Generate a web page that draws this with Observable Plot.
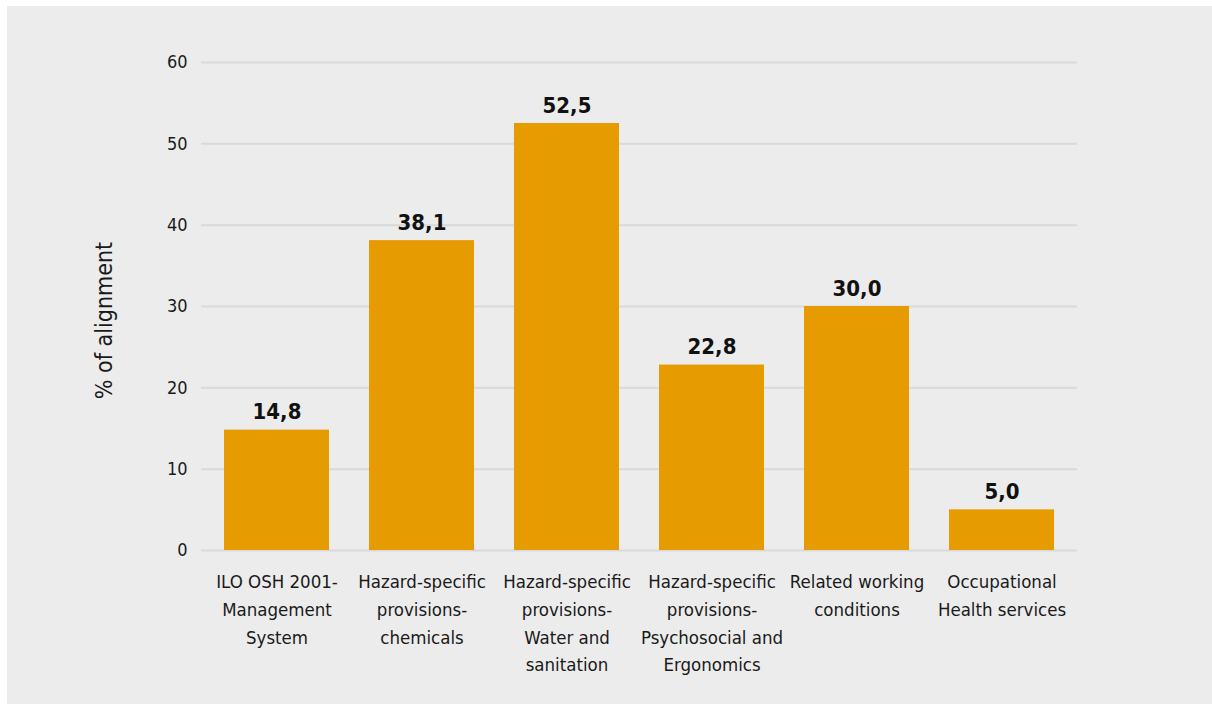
<!DOCTYPE html>
<html>
<head>
<meta charset="utf-8">
<script src="https://cdn.jsdelivr.net/npm/d3@7"></script>
<script src="https://cdn.jsdelivr.net/npm/@observablehq/plot@0.6"></script>
<style>
  html, body { margin: 0; padding: 0; background: #ffffff; }
  #panel {
    position: absolute; left: 7px; top: 6px; right: 0; bottom: 0;
    background: #ececec; overflow: hidden;
  }
  #panel svg { display: block; font-stretch: condensed; }
</style>
</head>
<body>
<div id="panel"></div>
<script>
// Share of alignment with ILO standards, by area
const categories = [
  "ILO OSH 2001-\nManagement\nSystem",
  "Hazard-specific\nprovisions-\nchemicals",
  "Hazard-specific\nprovisions-\nWater and\nsanitation",
  "Hazard-specific\nprovisions-\nPsychosocial and\nErgonomics",
  "Related working\nconditions",
  "Occupational\nHealth services"
];
const values = [14.8, 38.1, 52.5, 22.8, 30.0, 5.0];
const yTicks = [0, 10, 20, 30, 40, 50, 60];
const yLabel = "% of alignment";

const data = categories.map((c, i) => ({category: c, value: values[i]}));
const font = "'DejaVu Sans Condensed', 'DejaVu Sans', sans-serif";
const fmt = d3.format(".1f");

const chart = Plot.plot({
  width: 1205,
  height: 698,
  marginLeft: 194,
  marginRight: 135,
  marginTop: 56,
  marginBottom: 154,
  style: {background: "transparent", fontFamily: font, color: "#1a1a1a", overflow: "visible"},
  x: {domain: categories, paddingInner: 0.278, paddingOuter: 0.14, label: null},
  y: {domain: [0, 60], label: null},
  marks: [
    Plot.ruleY(yTicks, {stroke: "#d9d9d9", strokeWidth: 2}),
    Plot.barY(data, {x: "category", y: "value", fill: "#e69b00"}),
    Plot.text(data, {
      x: "category", y: "value",
      text: d => fmt(d.value).replace(".", ","),
      lineAnchor: "bottom", dy: -11,
      fontSize: 22, fontWeight: "bold", fill: "#111111"
    }),
    Plot.axisY(yTicks, {
      tickSize: 0, tickPadding: 14, fontSize: 18, label: null, fill: "#1a1a1a"
    }),
    Plot.axisX({
      tickSize: 0, tickPadding: 18, fontSize: 18.5, lineHeight: 1.5, label: null, fill: "#1a1a1a"
    }),
    Plot.text([yLabel], {
      frameAnchor: "left", textAnchor: "middle", dx: -97, dy: 14, rotate: -90,
      fontSize: 23, fill: "#1a1a1a"
    })
  ]
});

document.getElementById("panel").appendChild(chart);
</script>
</body>
</html>
